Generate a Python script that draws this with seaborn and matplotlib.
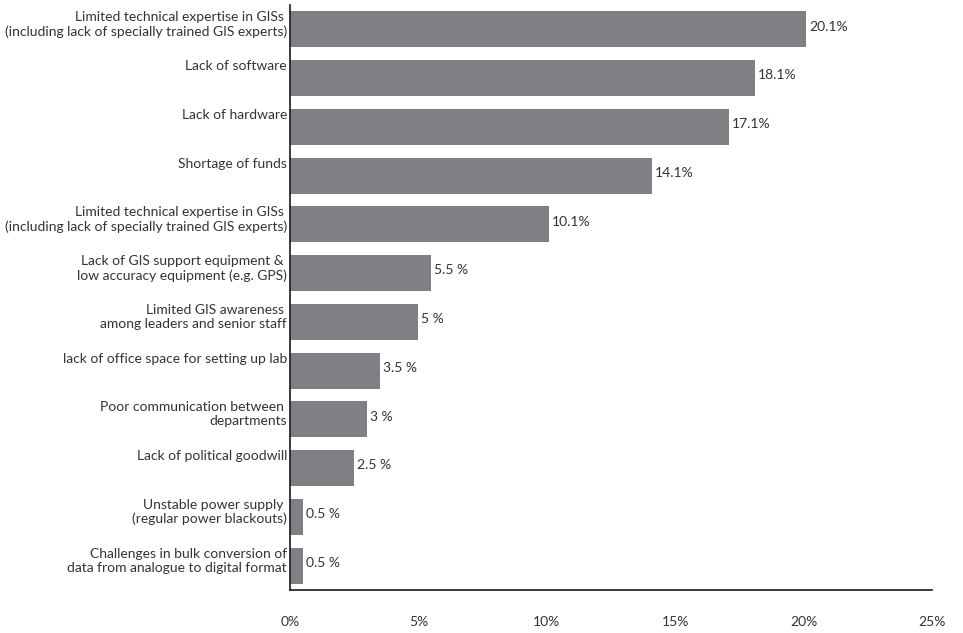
import matplotlib
matplotlib.use("Agg")
import matplotlib.pyplot as plt
import matplotlib.transforms as mtransforms
import seaborn as sns
import pandas as pd

# Reported constraints to GIS adoption (share of respondents, %)
categories = [
    "Limited technical expertise in GISs \n(including lack of specially trained GIS experts)",
    "Lack of software",
    "Lack of hardware",
    "Shortage of funds",
    "Limited technical expertise in GISs \n(including lack of specially trained GIS experts)",
    "Lack of GIS support equipment & \nlow accuracy equipment (e.g. GPS)",
    "Limited GIS awareness \namong leaders and senior staff",
    "lack of office space for setting up lab",
    "Poor communication between \ndepartments",
    "Lack of political goodwill",
    "Unstable power supply \n(regular power blackouts)",
    "Challenges in bulk conversion of\ndata from analogue to digital format",
]
shares = [20.1, 18.1, 17.1, 14.1, 10.1, 5.5, 5, 3.5, 3, 2.5, 0.5, 0.5]
value_labels = ["20.1%", "18.1%", "17.1%", "14.1%", "10.1%", "5.5 %", "5 %",
                "3.5 %", "3 %", "2.5 %", "0.5 %", "0.5 %"]
x_ticks = [0, 5, 10, 15, 20, 25]
x_tick_labels = ["0%", "5%", "10%", "15%", "20%", "25%"]

BAR_COLOR = "#808084"
TEXT_COLOR = "#333333"
FONT = "Lato"
FS = 10.0
BAR_W = 0.74

sns.set_style("white")
plt.rcParams["font.family"] = [FONT, "DejaVu Sans"]

df = pd.DataFrame({"pos": list(range(len(shares))), "share": shares})

fig = plt.figure(figsize=(9.63, 6.33), dpi=100)
ax = fig.add_axes([290 / 963, 1 - 590 / 633, (932 - 290) / 963, (590 - 5) / 633])

sns.barplot(data=df, x="share", y="pos", orient="h", color=BAR_COLOR,
            saturation=1, width=BAR_W, ax=ax, linewidth=0)

ax.set_xlim(0, 25)
ax.set_ylim(len(shares) - 0.5, -0.5)
ax.set_xticks(x_ticks)
ax.set_xticklabels(x_tick_labels, fontsize=FS, color=TEXT_COLOR)
ax.set_yticks([])
ax.set_xlabel("")
ax.set_ylabel("")
ax.tick_params(axis="x", length=0, pad=19)

for side in ("top", "right"):
    ax.spines[side].set_visible(False)
for side in ("left", "bottom"):
    ax.spines[side].set_color("#1a1a1a")
    ax.spines[side].set_linewidth(1.2)

# Category names: right-aligned against the axis, top-aligned with each bar
trans = mtransforms.blended_transform_factory(ax.transAxes, ax.transData)
nudge = mtransforms.ScaledTranslation(-3 / 100, 0, fig.dpi_scale_trans)
for i, name in enumerate(categories):
    ax.text(0, i - BAR_W / 2, name, transform=trans + nudge, ha="right", va="top",
            multialignment="right", fontsize=FS, color=TEXT_COLOR, linespacing=1.2)

# Value labels just past each bar end
texts = ax.bar_label(ax.containers[0], labels=value_labels, padding=2,
                     fontsize=FS, color=TEXT_COLOR)
for t in texts:
    t.xyann = (t.xyann[0], 2.0)

fig.savefig("out.png", dpi=100)
